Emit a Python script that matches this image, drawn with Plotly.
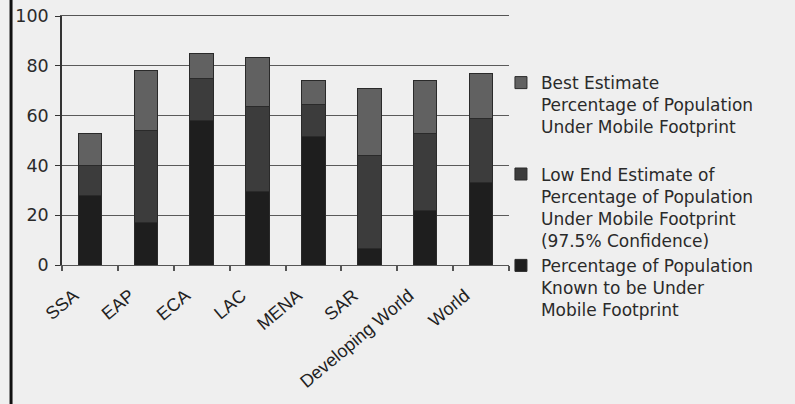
import plotly.graph_objects as go

categories = ["SSA", "EAP", "ECA", "LAC", "MENA", "SAR", "Developing World", "World"]
known = [28, 17, 58, 29.5, 51.5, 6.5, 22, 33]
low_end_extra = [12, 37, 17, 34, 13, 37.5, 31, 26]
best_extra = [13, 24, 10, 20, 9.5, 27, 21, 18]
y_ticks = [0, 20, 40, 60, 80, 100]

names = [
    "Percentage of Population<br>Known to be Under<br>Mobile Footprint",
    "Low End Estimate of<br>Percentage of Population<br>Under Mobile Footprint<br>(97.5% Confidence)",
    "Best Estimate<br>Percentage of Population<br>Under Mobile Footprint<br> ",
]
colors = ["#1e1e1e", "#3c3c3c", "#616161"]

fig = go.Figure()
for i, (vals, name, col) in enumerate(zip([known, low_end_extra, best_extra], names, colors)):
    fig.add_trace(go.Bar(
        x=categories, y=vals, name=name, legendgroup=f"g{i}",
        marker=dict(color=col, line=dict(color="#2a2a2a", width=1)),
    ))

n = len(categories)
boundaries = [i - 0.5 for i in range(n + 1)]

font_family = "DejaVu Sans, Arial, sans-serif"
fig.update_layout(
    barmode="stack",
    bargap=0.58,
    width=795, height=404,
    margin=dict(l=62, r=286, t=16, b=139, autoexpand=False),
    paper_bgcolor="#efefef",
    plot_bgcolor="#efefef",
    font=dict(family=font_family, size=17, color="#2a2a2a"),
    legend=dict(
        x=0.982, y=0.803, xanchor="left", yanchor="top",
        traceorder="reversed", valign="top", maxheight=400,
        tracegroupgap=4,
        font=dict(size=17, color="#2a2a2a"),
        itemwidth=30, bgcolor="rgba(0,0,0,0)",
    ),
    xaxis=dict(
        tickangle=-40, showline=True, mirror=True, linecolor="#555555",
        linewidth=1.3, ticks="", showgrid=False, range=[-0.5, n - 0.5],
        tickfont=dict(size=18, family="Liberation Sans, Arial, sans-serif",
                      color="#222222"),
        automargin=False, ticklabelstandoff=12, ticklabelshift=-16,
    ),
    xaxis2=dict(
        overlaying="x", anchor="y", side="bottom", range=[-0.5, n - 0.5],
        tickvals=boundaries, showticklabels=False, ticks="outside",
        ticklen=5, tickcolor="#555555", tickwidth=1.5, showgrid=False,
        showline=False, zeroline=False, automargin=False,
    ),
    yaxis=dict(
        range=[0, 100], tickvals=y_ticks, showline=True, linecolor="#333333",
        linewidth=1.5, ticks="outside", ticklen=5, tickcolor="#333333",
        gridcolor="#5a5a5a", gridwidth=1, zeroline=False,
        tickfont=dict(size=17.5), automargin=False, ticklabelstandoff=3,
    ),
    shapes=[dict(type="line", xref="paper", yref="paper",
                 x0=-0.114, x1=-0.114, y0=-0.6, y1=1.1,
                 line=dict(color="#111111", width=3))],
)
fig.add_trace(go.Scatter(x=[None], y=[None], xaxis="x2", showlegend=False,
                         hoverinfo="skip"))
fig.write_html(
    "out.html",
    config={"displayModeBar": False},
    post_script="document.body.style.margin='0';document.body.style.background='#efefef';",
)
